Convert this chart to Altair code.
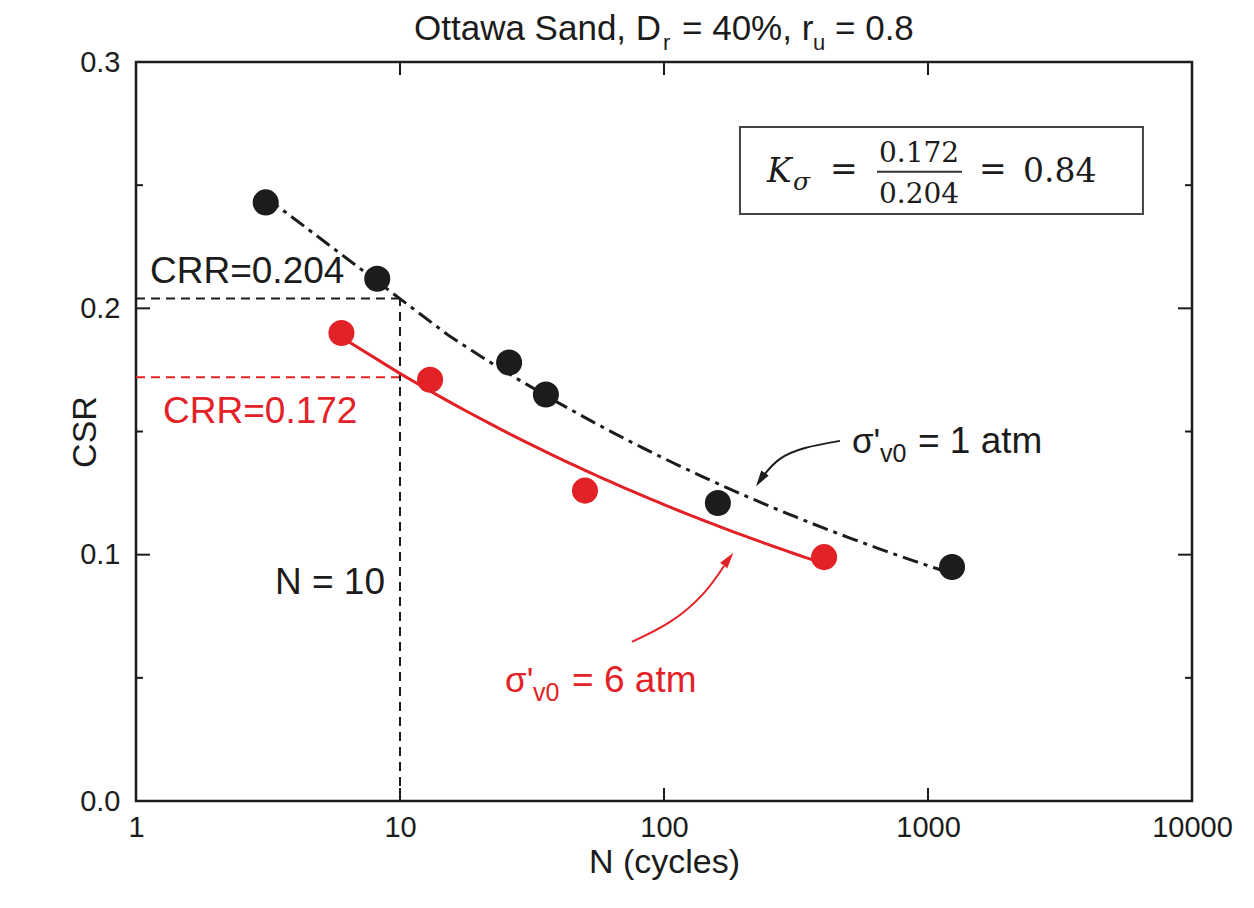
import altair as alt
import pandas as pd

# Cycles to reach r_u = 0.8 and the applied cyclic stress ratio
n_1atm = [3.1, 8.2, 25.9, 35.7, 160.0, 1233.0]
csr_1atm = [0.243, 0.212, 0.178, 0.165, 0.121, 0.095]
n_6atm = [6.0, 13.0, 50.2, 404.0]
csr_6atm = [0.190, 0.171, 0.126, 0.099]

# Cyclic resistance ratios read at N = 10
n_ref = 10
crr_1atm = 0.204
crr_6atm = 0.172

# Axis labels and inward ticks
x_labels = [1, 10, 100, 1000, 10000]
y_labels = [0.0, 0.1, 0.2, 0.3]
x_inner_ticks = [10, 100, 1000]
y_major_ticks = [0.1, 0.2]
y_minor_ticks = [0.05, 0.15, 0.25]

# Curved pointer arrows (N, CSR) and their arrowheads
arrow_1atm_n = [464.0, 342.0, 275.0, 241.0]
arrow_1atm_csr = [0.1462, 0.1433, 0.1389, 0.1328]
arrow_6atm_n = [75.6, 105.4, 140.5, 168.8]
arrow_6atm_csr = [0.0646, 0.0727, 0.0840, 0.0954]
head_n = [233.0, 174.8]
head_csr = [0.1307, 0.0979]
head_angle = [214, 37]

BLACK = "#1c1c1c"
RED = "#e32227"
SANS = "Liberation Sans"
SERIF = "DejaVu Serif"
W, H = 1056, 739

xs = alt.Scale(type="log", domain=[1, 10000])
ys = alt.Scale(domain=[0, 0.3])

x_axis = alt.Axis(
    values=x_labels, format="d", title="N (cycles)", domain=False, ticks=False,
    tickSize=0, grid=False, labelFontSize=29, labelPadding=12, labelFlush=False,
    labelOverlap=False, titleFontSize=34, titleFontWeight="normal",
    titleX=W / 2, titleY=61, titleAlign="center", titleBaseline="middle",
)
y_axis = alt.Axis(
    values=y_labels, format=".1f", title="CSR", domain=False, ticks=False,
    tickSize=0, grid=False, labelFontSize=29, labelPadding=16, labelFlush=False,
    labelOverlap=False, titleFontSize=34, titleFontWeight="normal",
    titleX=-51, titleY=H / 2, titleAngle=270, titleAlign="center",
    titleBaseline="middle",
)


def X(field="N"):
    return alt.X(f"{field}:Q", scale=xs, axis=x_axis)


def Y(field="CSR"):
    return alt.Y(f"{field}:Q", scale=ys, axis=y_axis)


pts_1 = pd.DataFrame({"N": n_1atm, "CSR": csr_1atm})
pts_6 = pd.DataFrame({"N": n_6atm, "CSR": csr_6atm})

# Power-law fits through each test series
fit_1 = (
    alt.Chart(pts_1).transform_regression("N", "CSR", method="pow")
    .mark_line(color=BLACK, strokeWidth=3, strokeDash=[16, 6, 4, 6])
    .encode(x=X(), y=Y())
)
fit_6 = (
    alt.Chart(pts_6).transform_regression("N", "CSR", method="pow")
    .mark_line(color=RED, strokeWidth=3)
    .encode(x=X(), y=Y())
)
dots_1 = alt.Chart(pts_1).mark_circle(size=680, color=BLACK, opacity=1).encode(x=X(), y=Y())
dots_6 = alt.Chart(pts_6).mark_circle(size=680, color=RED, opacity=1).encode(x=X(), y=Y())

# Dashed guides at N = 10
h_guides = pd.DataFrame({"N": [1, 1], "N2": [n_ref, n_ref], "CSR": [crr_1atm, crr_6atm],
                         "c": ["a", "b"]})
h_rules = alt.Chart(h_guides).mark_rule(strokeWidth=2, strokeDash=[9, 6]).encode(
    x=X(), x2="N2:Q", y=Y(),
    color=alt.Color("c:N", scale=alt.Scale(domain=["a", "b"], range=[BLACK, RED]), legend=None),
)
v_guide = pd.DataFrame({"N": [n_ref], "CSR": [0.0], "CSR2": [crr_1atm]})
v_rule = alt.Chart(v_guide).mark_rule(color=BLACK, strokeWidth=2, strokeDash=[9, 6]).encode(
    x=X(), y=Y(), y2="CSR2:Q"
)

# Inward ticks on all four sides
xt = pd.DataFrame({"N": x_inner_ticks})
ytm = pd.DataFrame({"CSR": y_major_ticks})
ytn = pd.DataFrame({"CSR": y_minor_ticks})
tick_style = dict(color=BLACK, strokeWidth=2)
ticks = [
    alt.Chart(xt).mark_rule(**tick_style).encode(x=X(), y=alt.value(H), y2=alt.value(H - 13)),
    alt.Chart(xt).mark_rule(**tick_style).encode(x=X(), y=alt.value(0), y2=alt.value(13)),
    alt.Chart(ytm).mark_rule(**tick_style).encode(y=Y(), x=alt.value(0), x2=alt.value(14)),
    alt.Chart(ytn).mark_rule(**tick_style).encode(y=Y(), x=alt.value(0), x2=alt.value(7)),
    alt.Chart(ytm).mark_rule(**tick_style).encode(y=Y(), x=alt.value(W), x2=alt.value(W - 14)),
    alt.Chart(ytn).mark_rule(**tick_style).encode(y=Y(), x=alt.value(W), x2=alt.value(W - 7)),
]

# Pointer arrows
arr = pd.DataFrame({
    "N": arrow_1atm_n + arrow_6atm_n,
    "CSR": arrow_1atm_csr + arrow_6atm_csr,
    "k": ["a"] * 4 + ["b"] * 4,
    "o": list(range(4)) * 2,
})
arrow_color = alt.Color("k:N", scale=alt.Scale(domain=["a", "b"], range=[BLACK, RED]), legend=None)
arrows = alt.Chart(arr).mark_line(strokeWidth=2, interpolate="natural").encode(
    x=X(), y=Y(), color=arrow_color, order="o:Q", detail="k:N"
)
heads = alt.Chart(pd.DataFrame({"N": head_n, "CSR": head_csr, "a": head_angle, "k": ["a", "b"]})).mark_point(
    shape="M0,-1L0.5,0.8L-0.5,0.8Z", filled=True, size=320, opacity=1
).encode(x=X(), y=Y(), angle=alt.Angle("a:Q", scale=None), color=arrow_color)


def text_at(n, csr, s, size, color=BLACK, dx=0, dy=0, font=SANS, style="normal",
            align="left", baseline="alphabetic"):
    df = pd.DataFrame({"N": [n], "CSR": [csr], "t": [s]})
    return alt.Chart(df).mark_text(
        fontSize=size, color=color, dx=dx, dy=dy, font=font, fontStyle=style,
        align=align, baseline=baseline,
    ).encode(x=X(), y=Y(), text="t:N")


labels = [
    text_at(1.13, 0.2103, f"CRR={crr_1atm:.3f}", 37),
    text_at(1.266, 0.1535, f"CRR={crr_6atm:.3f}", 37, color=RED),
    text_at(3.36, 0.0840, f"N = {n_ref}", 37),
    # sigma'_v0 = 1 atm
    text_at(515, 0.1413, "σ'", 35),
    text_at(515, 0.1413, "v0", 25, dx=28, dy=9),
    text_at(515, 0.1413, "= 1 atm", 37, dx=66),
    # sigma'_v0 = 6 atm
    text_at(25.0, 0.0443, "σ'", 35, color=RED),
    text_at(25.0, 0.0443, "v0", 25, color=RED, dx=28, dy=9),
    text_at(25.0, 0.0443, "= 6 atm", 37, color=RED, dx=67),
]

# K_sigma box
box = alt.Chart(pd.DataFrame({"N": [194.0], "N2": [6520.0], "CSR": [0.2736], "CSR2": [0.2383]})).mark_rect(
    fill="white", stroke="#444", strokeWidth=2
).encode(x=X(), x2="N2:Q", y=Y(), y2="CSR2:Q")
frac_bar = alt.Chart(pd.DataFrame({"N": [641.0], "N2": [1345.0], "CSR": [0.2554]})).mark_rule(
    color="#333", strokeWidth=2
).encode(x=X(), x2="N2:Q", y=Y())
k_n, k_csr = 245.6, 0.2513
k_text = [
    text_at(k_n, k_csr, "K", 33, font=SERIF, style="italic"),
    text_at(k_n, k_csr, "σ", 25, font=SERIF, style="italic", dx=26, dy=8),
    text_at(k_n, k_csr, "=", 33, font=SERIF, dx=63, dy=-2),
    text_at(k_n, k_csr, f"{crr_6atm:.3f}", 28, font=SERIF, dx=152, dy=-20, align="center"),
    text_at(k_n, k_csr, f"{crr_1atm:.3f}", 28, font=SERIF, dx=152, dy=21, align="center"),
    text_at(k_n, k_csr, "=", 33, font=SERIF, dx=212, dy=-2),
    text_at(k_n, k_csr, f"{crr_6atm / crr_1atm:.2f}", 33, font=SERIF, dx=256),
]

# Title with subscripts
title_parts = ["Ottawa Sand, D", "r", "= 40%, r", "u", "= 0.8"]
title_x = [278, 527, 546, 677, 699]
title_sub = [False, True, False, True, False]
title_layers = []
for part, px, sub in zip(title_parts, title_x, title_sub):
    title_layers.append(
        alt.Chart(pd.DataFrame({"t": [part]})).mark_text(
            fontSize=22 if sub else 35, color=BLACK, font=SANS, align="left",
            baseline="alphabetic",
        ).encode(x=alt.value(px), y=alt.value(-12 if sub else -22), text="t:N")
    )

chart = alt.layer(
    *ticks, h_rules, v_rule, fit_1, fit_6, dots_1, dots_6, arrows, heads,
    box, frac_bar, *k_text, *labels, *title_layers,
).properties(
    width=W, height=H,
    padding={"left": 136, "top": 62, "right": 62, "bottom": 107},
    autosize=alt.AutoSizeParams(type="none"),
).configure_view(
    stroke=BLACK, strokeWidth=2.5
).configure_axis(
    labelFont=SANS, titleFont=SANS, labelColor=BLACK, titleColor=BLACK
)

chart.save("out.html", embed_options={"renderer": "svg", "actions": False})
